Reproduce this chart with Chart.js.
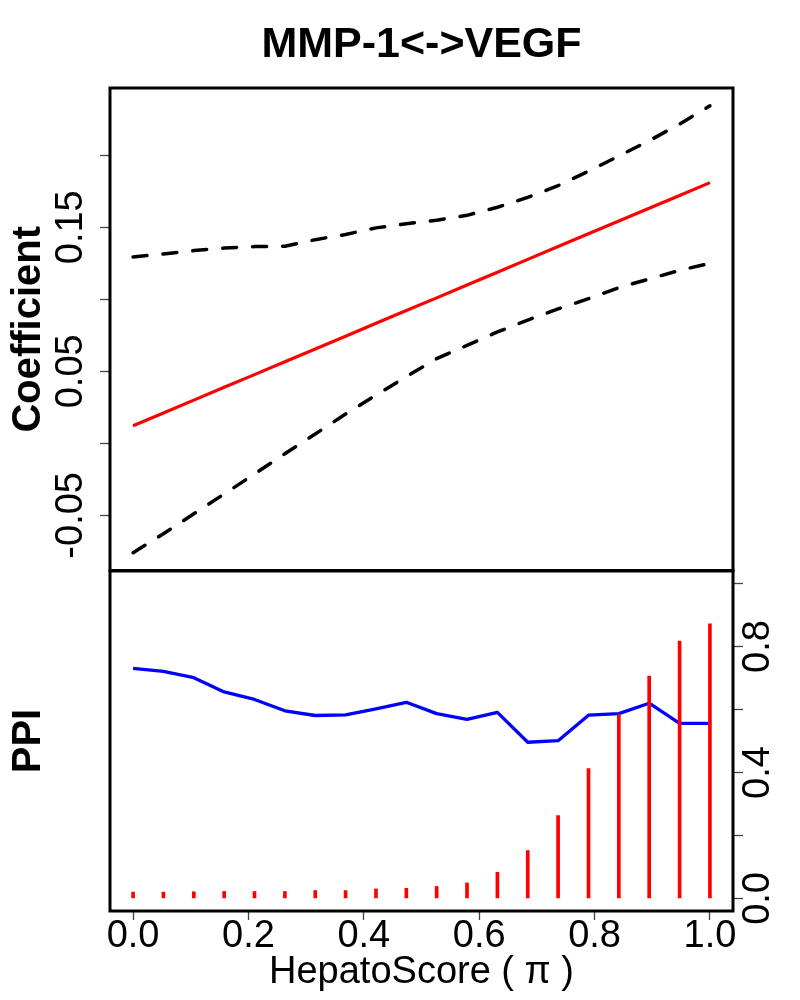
<!DOCTYPE html>
<html>
<head>
<meta charset="utf-8">
<title>MMP-1 VEGF coefficient</title>
<script src="https://cdn.jsdelivr.net/npm/chart.js@4.4.0/dist/chart.umd.min.js"></script>
<style>
  html, body { margin: 0; padding: 0; background: #fff; }
  #wrap { position: relative; width: 800px; height: 1000px; }
  #wrap canvas { position: absolute; left: 0; top: 0; }
</style>
</head>
<body>
<div id="wrap">
  <canvas id="coefChart" width="800" height="1000"></canvas>
  <canvas id="ppiChart" width="800" height="1000"></canvas>
</div>
<script>
// HepatoScore grid (x positions of every curve and stem)
const hepatoScore = [0.0000, 0.0526, 0.1053, 0.1579, 0.2105, 0.2632, 0.3158, 0.3684, 0.4211, 0.4737,
                     0.5263, 0.5789, 0.6316, 0.6842, 0.7368, 0.7895, 0.8421, 0.8947, 0.9474, 1.0000];

// top panel: coefficient estimate and its band
const coefficient = [0.0122, 0.0211, 0.0300, 0.0389, 0.0477, 0.0566, 0.0655, 0.0744, 0.0833, 0.0922,
                     0.1010, 0.1099, 0.1188, 0.1277, 0.1366, 0.1455, 0.1544, 0.1632, 0.1721, 0.1810];
const upperBand = [0.1294, 0.1315, 0.1338, 0.1356, 0.1366, 0.1369, 0.1414, 0.1450, 0.1496, 0.1525,
                   0.1549, 0.1583, 0.1639, 0.1708, 0.1789, 0.1889, 0.1995, 0.2101, 0.2217, 0.2343];
const lowerBand = [-0.0759, -0.0628, -0.0489, -0.0352, -0.0213, -0.0072, 0.0065, 0.0203, 0.0335, 0.0463,
                   0.0588, 0.0680, 0.0773, 0.0856, 0.0933, 0.1004, 0.1081, 0.1141, 0.1201, 0.1250];

// bottom panel: PPI curve and red stems
const ppi = [0.731, 0.721, 0.701, 0.656, 0.632, 0.596, 0.581, 0.583, 0.602, 0.623,
             0.587, 0.569, 0.591, 0.496, 0.501, 0.582, 0.587, 0.620, 0.556, 0.556];
const stemHeights = [0.020, 0.020, 0.021, 0.022, 0.022, 0.022, 0.025, 0.025, 0.030, 0.032,
                     0.038, 0.049, 0.083, 0.152, 0.263, 0.412, 0.584, 0.706, 0.817, 0.872];

// tick marks and which of them carry a label
const coefTicks = [-0.05, 0.00, 0.05, 0.10, 0.15, 0.20];
const coefLabels = [-0.05, 0.05, 0.15];
const ppiTicks = [0.0, 0.2, 0.4, 0.6, 0.8, 1.0];
const ppiLabels = [0.0, 0.4, 0.8];
const xTicks = [0.0, 0.2, 0.4, 0.6, 0.8, 1.0];

const toPoints = ys => hepatoScore.map((x, i) => ({ x: x, y: ys[i] }));

Chart.defaults.font.family = "'Liberation Sans', Arial, sans-serif";
Chart.defaults.color = '#000';

// draws the black frame round each panel
const panelBox = {
    id: 'panelBox',
    afterDatasetsDraw(chart) {
        const { ctx, chartArea: a } = chart;
        ctx.save();
        ctx.strokeStyle = '#000';
        ctx.lineWidth = 3;
        ctx.strokeRect(a.left, a.top, a.right - a.left, a.bottom - a.top);
        ctx.restore();
    }
};

const tickGrid = { drawOnChartArea: false, drawTicks: true, tickLength: 10, tickColor: '#444', tickWidth: 1.3 };

// --- top panel: Coefficient ---
new Chart(document.getElementById('coefChart'), {
    type: 'line',
    data: {
        datasets: [
            { label: 'Coefficient', data: toPoints(coefficient), borderColor: '#ff0000', borderWidth: 3.2, pointRadius: 0, order: 0 },
            { label: 'Upper', data: toPoints(upperBand), borderColor: '#000', borderWidth: 3.5, borderDash: [14, 16], borderCapStyle: 'round', pointRadius: 0, order: 1 },
            { label: 'Lower', data: toPoints(lowerBand), borderColor: '#000', borderWidth: 3.5, borderDash: [14, 16], borderCapStyle: 'round', pointRadius: 0, order: 2 }
        ]
    },
    options: {
        responsive: false,
        animation: false,
        layout: { padding: { top: 0, right: 67, bottom: 429.5, left: 0 } },
        plugins: {
            legend: { display: false },
            tooltip: { enabled: false },
            title: {
                display: true,
                text: 'MMP-1<->VEGF',
                fullSize: false,
                color: '#000',
                font: { size: 43, weight: 'bold' },
                padding: { top: 19, bottom: 17.4 }
            }
        },
        scales: {
            x: { type: 'linear', min: -0.04, max: 1.04, display: false },
            y: {
                type: 'linear',
                position: 'left',
                min: -0.0883,
                max: 0.2467,
                afterBuildTicks: axis => { axis.ticks = coefTicks.map(v => ({ value: v })); },
                afterFit: axis => { axis.width = 110; },
                grid: tickGrid,
                border: { display: false },
                ticks: {
                    autoSkip: false,
                    minRotation: 90,
                    maxRotation: 90,
                    crossAlign: 'center',
                    padding: -15,
                    font: { size: 38 },
                    callback: v => coefLabels.includes(v) ? v.toFixed(2) : ''
                },
                title: { display: true, text: 'Coefficient', font: { size: 40, weight: 'bold' }, padding: { top: 5, bottom: 0 } }
            }
        }
    },
    plugins: [panelBox]
});

// --- bottom panel: PPI ---
new Chart(document.getElementById('ppiChart'), {
    type: 'line',
    data: {
        datasets: [
            { type: 'bar', label: 'Stem', data: toPoints(stemHeights), backgroundColor: '#ff0000', barThickness: 3, order: 0, yAxisID: 'y' },
            { type: 'line', label: 'PPI', data: toPoints(ppi), borderColor: '#0000ff', borderWidth: 3.3, borderJoinStyle: 'round', pointRadius: 0, order: 1, yAxisID: 'y' }
        ]
    },
    options: {
        responsive: false,
        animation: false,
        layout: { padding: { top: 571, right: 0, bottom: 0, left: 0 } },
        plugins: {
            legend: { display: false },
            tooltip: { enabled: false }
        },
        scales: {
            x: {
                type: 'linear',
                position: 'bottom',
                min: -0.04,
                max: 1.04,
                offset: false,
                afterBuildTicks: axis => { axis.ticks = xTicks.map(v => ({ value: v })); },
                afterFit: axis => { axis.height = 89; },
                grid: Object.assign({ offset: false }, tickGrid, { tickLength: 9 }),
                border: { display: false },
                ticks: {
                    autoSkip: false,
                    minRotation: 0,
                    maxRotation: 0,
                    padding: -6,
                    font: { size: 38 },
                    callback: v => v.toFixed(1)
                },
                title: { display: true, text: 'HepatoScore ( \u03c0 )', font: { size: 38 }, padding: { top: 0, bottom: 5 } }
            },
            yl: {
                type: 'linear',
                position: 'left',
                min: 0,
                max: 1,
                afterFit: axis => { axis.width = 110; },
                grid: { display: false },
                border: { display: false },
                ticks: { display: false },
                title: { display: true, text: 'PPI', font: { size: 40, weight: 'bold' }, padding: { top: 5, bottom: 0 } }
            },
            y: {
                type: 'linear',
                position: 'right',
                min: -0.04,
                max: 1.04,
                afterBuildTicks: axis => { axis.ticks = ppiTicks.map(v => ({ value: v })); },
                afterFit: axis => { axis.width = 67; },
                grid: tickGrid,
                border: { display: false },
                ticks: {
                    autoSkip: false,
                    minRotation: 90,
                    maxRotation: 90,
                    crossAlign: 'center',
                    padding: -11,
                    font: { size: 38 },
                    callback: v => ppiLabels.includes(v) ? v.toFixed(1) : ''
                }
            }
        }
    },
    plugins: [panelBox]
});
</script>
</body>
</html>
